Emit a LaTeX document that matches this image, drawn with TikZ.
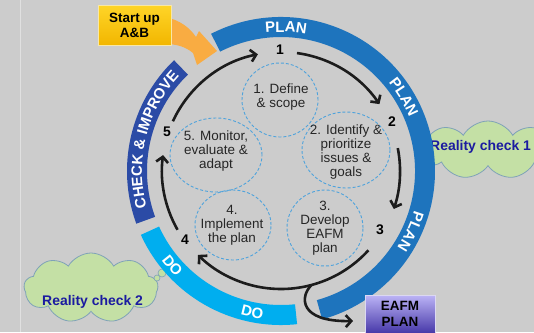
\documentclass[tikz,border=0pt]{standalone}
\usepackage{fontspec}
\setmainfont{Liberation Sans}
\usetikzlibrary{arrows.meta,shapes.symbols,decorations.text}
\definecolor{bg}{HTML}{CCCCCC}
\definecolor{plancol}{HTML}{1E74BD}
\definecolor{checkcol}{HTML}{2B4BA6}
\definecolor{docol}{HTML}{00AEEF}
\definecolor{dashcol}{HTML}{4FA3DC}
\definecolor{cloudfill}{HTML}{C4E0A5}
\definecolor{cloudline}{HTML}{7FA2B8}
\definecolor{rcheck}{HTML}{1B1BA0}
\definecolor{orangecol}{HTML}{F9AC42}
\definecolor{arrowcol}{HTML}{1C1C1C}
\definecolor{stagecol}{HTML}{262626}
\definecolor{goldtop}{HTML}{FFD528}
\definecolor{goldbot}{HTML}{F2B600}
\definecolor{goldline}{HTML}{F8E7A6}
\definecolor{eafmtop}{HTML}{BCB4F6}
\definecolor{eafmbot}{HTML}{2E1E98}
\definecolor{eafmline}{HTML}{DCD8F2}
\newcommand\ringfont{\color{white}\bfseries\fontsize{15}{15}\selectfont}
\newcommand\ringseg[3]{\fill[#1] (#2:154bp) arc[start angle=#2,end angle=#3,radius=154bp] -- (#3:134bp) arc[start angle=#3,end angle=#2,radius=134bp] -- cycle;}
\begin{document}
\begin{tikzpicture}[x=1bp,y=1bp,
  stagetext/.style={align=center,font=\fontsize{13.5}{14}\selectfont,text=stagecol,inner sep=0},
  dashc/.style={draw=dashcol,line width=0.9bp,dash pattern=on 3bp off 2bp},
  num/.style={font=\bfseries\fontsize{14}{14}\selectfont,inner sep=0},
  cyc/.style={line width=2.6bp,draw=arrowcol,-{Straight Barb[length=5.5bp,width=12bp]}},
  startbox/.style={draw=goldline,line width=0.8bp,top color=goldtop,bottom color=goldbot,minimum width=73bp,minimum height=40bp,align=center,inner sep=0,font=\bfseries\fontsize{13.5}{15}\selectfont},
  eafmbox/.style={draw=eafmline,line width=0.8bp,top color=eafmtop,bottom color=eafmbot,minimum width=70bp,minimum height=46bp,inner sep=0},
  boldlbl/.style={align=center,inner sep=0,font=\bfseries\fontsize{13.5}{16}\selectfont},
  cloudy/.style={cloud,cloud puffs=9,cloud puff arc=120,draw=cloudline,fill=cloudfill,line width=0.8bp,inner sep=0},
  rctext/.style={font=\bfseries\fontsize{14}{14}\selectfont,text=rcheck,inner sep=0},
  bubble/.style={draw=cloudline,fill=cloudfill,line width=0.6bp},
  ringlbl/.style={decorate,decoration={text along path,text align=center,text={|\ringfont|#1}}}
]
\useasboundingbox (0,0) rectangle (534,-332);
\clip (0,0) rectangle (534,-332);
\fill[bg] (0,0) rectangle (534,-332);
\draw[white!88!black,line width=1bp] (20.5,0) -- (20.5,-332);

% clouds
\node[cloudy,minimum width=142bp,minimum height=58bp] (rc1) at (488,-150) {};
\draw[bubble] (426,-176) circle[radius=2.6bp];
\draw[bubble] (429.5,-172.5) circle[radius=2bp];
\node[rctext,anchor=base west] (rc1t) at (430,-150) {Reality check 1};
\node[cloudy,minimum width=134bp,minimum height=70bp] (rc2) at (91,-288) {};
\draw[bubble] (162,-273) circle[radius=4bp];
\draw[bubble] (157,-278) circle[radius=3bp];
\node[rctext,anchor=base west] (rc2t) at (42,-305) {Reality check 2};

% ring
\begin{scope}[shift={(281,-171)}]
\ringseg{plancol}{117}{-74.5}
\ringseg{checkcol}{200}{134}
\ringseg{docol}{204.5}{276}
\path[ringlbl={PLAN}] (105:139bp) arc[start angle=105,end angle=71,radius=139bp];
\path[ringlbl={PLAN}] (48:139bp) arc[start angle=48,end angle=14,radius=139bp];
\path[ringlbl={PLAN}] (-8:139bp) arc[start angle=-8,end angle=-42,radius=139bp];
\path[ringlbl={CHECK {\&} IMPROVE}] (200:139bp) arc[start angle=200,end angle=132,radius=139bp];
\path[ringlbl={DO}] (210:149bp) arc[start angle=210,end angle=232,radius=149bp];
\path[ringlbl={DO}] (248:149bp) arc[start angle=248,end angle=269,radius=149bp];
% cycle arrows
\draw[cyc] (82.3:119bp) arc[start angle=82.3,end angle=34.2,radius=119bp];
\draw[cyc] (11.1:119bp) arc[start angle=11.1,end angle=-18.6,radius=119bp];
\draw[cyc] (-42.2:118bp) arc[start angle=-42.2,end angle=-134.7,radius=118bp];
\draw[cyc] (209.6:119bp) arc[start angle=209.6,end angle=172.3,radius=119bp];
\draw[cyc] (155.3:119bp) arc[start angle=155.3,end angle=101.2,radius=119bp];
\coordinate (branch) at (-75:118bp);
\end{scope}

% EAFM plan box and branch
\node[eafmbox] (eafm) at (400,-318) {};
\node[boldlbl] (eafmlbl) at (400,-313.5) {EAFM\\PLAN};
\coordinate (eafmin) at (353,-321);
\draw[cyc] (branch) .. controls (300,-296) and (298,-322) .. (eafmin);

% start up arrow and box
\fill[orangecol] (165,-17) .. controls (180,-20) and (190,-28) .. (196,-37) -- (199,-31) -- (217,-51) -- (197,-65) -- (193,-53) .. controls (186,-47) and (177,-44) .. (165,-44) -- cycle;
\node[startbox] (start) at (134.5,-25) {Start up\\A\&B};

% stage circles
\draw[dashc] (280,-100) ellipse[x radius=38bp,y radius=37bp];
\draw[dashc] (346,-150) ellipse[x radius=44bp,y radius=38bp];
\draw[dashc] (325,-228) ellipse[x radius=38bp,y radius=38bp];
\draw[dashc] (233,-225) ellipse[x radius=38bp,y radius=35bp];
\draw[dashc] (216,-155) ellipse[x radius=46bp,y radius=37bp];
\node[stagetext] (s1) at (281,-97) {1. Define\\\& scope};
\node[stagetext] (s2) at (346,-152) {2. Identify \&\\prioritize\\issues \&\\goals};
\node[stagetext] (s3) at (325,-228) {3.\\Develop\\EAFM\\plan};
\node[stagetext] (s4) at (232,-225) {4.\\Implement\\the plan};
\node[stagetext] (s5) at (216,-151) {5. Monitor,\\evaluate \&\\adapt};

% step numbers
\node[num] (n1) at (280,-50) {1};
\node[num] (n2) at (392,-122) {2};
\node[num] (n3) at (380,-230) {3};
\node[num] (n4) at (185,-240) {4};
\node[num] (n5) at (167,-132) {5};
\end{tikzpicture}
\end{document}
